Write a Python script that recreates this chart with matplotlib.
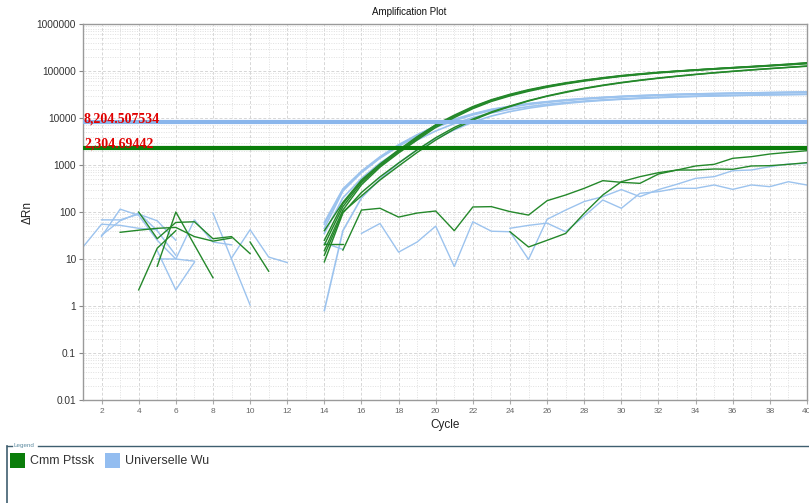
import matplotlib
matplotlib.use('Agg')
import matplotlib.pyplot as plt
from matplotlib.patches import Rectangle
from matplotlib.lines import Line2D
from matplotlib.ticker import FixedLocator, FixedFormatter, LogLocator, NullFormatter, MultipleLocator

plt.rcParams['font.family'] = ['Liberation Sans', 'DejaVu Sans']

# ---------------- data ----------------
series_names = ['Cmm Ptssk', 'Universelle Wu']
green_color = '#24882a'
blue_color = '#9cc3ee'

thr_blue = 8204.507534
thr_green = 2304.69442
thr_blue_label = '8,204.507534'
thr_green_label = '2,304.69442'

cyc_amp = list(range(14, 41))

green_amp_1 = [25, 150, 450, 1000, 2000, 3800, 7000, 11000, 17000, 24000, 31000, 39000, 47000, 55000,
               63000, 71000, 79000, 86000, 93000, 99000, 105000, 111000, 117000, 123000, 130000, 137000, 145000]
green_amp_2 = [20, 130, 420, 950, 1900, 3600, 6700, 10800, 16500, 23500, 30500, 38500, 46500, 54500,
               62500, 70000, 78000, 85500, 92500, 99000, 105500, 112000, 118500, 125000, 132000, 140000, 150000]
green_amp_3 = [40, 160, 480, 1050, 2100, 4000, 7200, 11500, 17500, 24500, 32000, 40000, 48000, 56000,
               64000, 72000, 80000, 87000, 94000, 100000, 106000, 112000, 118000, 124000, 131000, 139000, 148000]
green_amp_4 = [15, 110, 380, 900, 1800, 3400, 6300, 10200, 15800, 22500, 29500, 37000, 45000, 53000,
               61000, 69000, 77000, 84000, 91000, 97000, 103000, 109000, 115000, 121000, 128000, 135000, 143000]
green_amp_5 = [8.7, 95, 260, 560, 1100, 2100, 3800, 6300, 9500, 13500, 18000, 23500, 29500, 36000,
               43000, 50000, 57000, 64000, 71000, 78000, 85000, 92000, 99000, 106000, 113000, 120000, 128000]
green_amp_6 = [12, 100, 220, 480, 950, 1850, 3400, 5800, 9000, 13000, 17500, 23000, 29000, 35000,
               42000, 49000, 56000, 63000, 70000, 77000, 84000, 91000, 98000, 105000, 112000, 119000, 126000]

blue_amp_1 = [55, 300, 720, 1450, 2600, 4300, 6600, 9200, 12000, 15000, 17500, 20000, 22000, 24000,
              25800, 27300, 28700, 29800, 30800, 31700, 32400, 33000, 33600, 34100, 34600, 35100, 35600]
blue_amp_2 = [45, 280, 690, 1400, 2500, 4100, 6300, 8800, 11600, 14500, 17000, 19500, 21500, 23500,
              25300, 26800, 28200, 29300, 30300, 31200, 31900, 32500, 33100, 33600, 34100, 34600, 35100]
blue_amp_3 = [60, 310, 740, 1500, 2700, 4400, 6800, 9400, 12300, 15300, 17800, 20300, 22300, 24300,
              26000, 27500, 28900, 30000, 31000, 31900, 32600, 33200, 33800, 34300, 34800, 35300, 35800]
blue_amp_4 = [35, 200, 520, 1100, 2000, 3400, 5300, 7600, 10200, 12800, 15300, 17500, 19500, 21300,
              22900, 24300, 25500, 26600, 27600, 28400, 29100, 29700, 30200, 30700, 31200, 31600, 32000]
blue_amp_5 = [0.8, 40, 200, 500, 1100, 2100, 3600, 5600, 8200, 11000, 13700, 16200, 18400, 20400,
              22200, 23700, 25000, 26100, 27100, 28000, 28800, 29500, 30100, 30600, 31100, 31500, 31900]

# late / non-amplifying curves
green_late_1_x = list(range(15, 41))
green_late_1_y = [15.5, 110, 120, 78, 95, 105, 40, 128, 130, 102, 86, 174, 230, 319, 464, 428, 407,
                  643, 782, 953, 1033, 1387, 1504, 1713, 1860, 2018]
green_late_2_x = list(range(24, 41))
green_late_2_y = [38, 18, 25, 35, 94, 230, 441, 564, 687, 782, 782, 822, 810, 953, 968, 1033, 1122]
green_seg_x = [14, 15]
green_seg_y = [21, 21]

blue_late_1_x = list(range(16, 41))
blue_late_1_y = [35, 57, 14, 23, 50, 6.9, 62, 39, 38, 9.8, 70, 110, 167, 212, 300, 212, 300, 390,
                 520, 565, 757, 783, 920, 1050, 1080]
blue_late_2_x = list(range(24, 41))
blue_late_2_y = [45, 52, 58, 38, 82, 180, 120, 250, 271, 319, 319, 376, 303, 376, 346, 441, 375]
blue_seg_x = [14, 15]
blue_seg_y = [22, 16]

# early noise fragments
green_noise = [
    ([3, 4, 5, 6, 7, 8, 9], [37, 41, 45, 47, 30, 24, 28]),
    ([4, 5, 6, 7, 8, 9, 10], [100, 27, 60, 62, 27, 30, 13]),
    ([4, 5, 6], [2.2, 17, 40]),
    ([5, 6, 7, 8], [7, 100, 20, 4]),
    ([10, 11], [23, 5.5]),
]
blue_noise = [
    ([1, 2, 3, 4, 5], [18, 55, 52, 45, 42]),
    ([2, 3, 4, 5, 6], [68, 68, 90, 65, 25]),
    ([2, 3, 4, 5, 6, 7], [30, 115, 85, 25, 10, 9]),
    ([5, 6, 7], [15, 2.2, 8.5]),
    ([5, 6, 7, 8, 9], [10, 10, 68, 23, 20]),
    ([8, 9, 10], [95, 10, 1.05]),
    ([9, 10, 11, 12], [10.5, 42, 11, 8.4]),
    ([2, 3, 4, 5, 6], [32, 65, 95, 40, 12]),
]

y_ticks = [0.01, 0.1, 1, 10, 100, 1000, 10000, 100000, 1000000]
y_tick_labels = ['0.01', '0.1', '1', '10', '100', '1000', '10000', '100000', '1000000']
x_ticks = list(range(2, 41, 2))

# ---------------- figure ----------------
W, H = 809, 503
fig = plt.figure(figsize=(W / 100, H / 100), dpi=100)
ax = fig.add_axes([83 / W, 1 - 400 / H, 724 / W, 376 / H])
ax.set_yscale('log')
ax.set_xlim(1, 40)
ax.set_ylim(0.01, 1e6)

lw = 1.0
for xs, ys in blue_noise:
    ax.plot(xs, ys, color=blue_color, lw=lw, zorder=2)
for xs, ys in green_noise:
    ax.plot(xs, ys, color=green_color, lw=lw, zorder=3)

ax.plot(blue_seg_x, blue_seg_y, color=blue_color, lw=lw, zorder=2)
ax.plot(blue_late_1_x, blue_late_1_y, color=blue_color, lw=lw, zorder=2)
ax.plot(blue_late_2_x, blue_late_2_y, color=blue_color, lw=lw, zorder=2)
ax.plot(green_seg_x, green_seg_y, color=green_color, lw=lw, zorder=3)
ax.plot(green_late_1_x, green_late_1_y, color=green_color, lw=lw, zorder=3)
ax.plot(green_late_2_x, green_late_2_y, color=green_color, lw=lw, zorder=3)

for s in [blue_amp_1, blue_amp_2, blue_amp_3, blue_amp_4, blue_amp_5]:
    ax.plot(cyc_amp, s, color=blue_color, lw=1.2, zorder=2)
for s in [green_amp_1, green_amp_2, green_amp_3, green_amp_4, green_amp_5, green_amp_6]:
    ax.plot(cyc_amp, s, color=green_color, lw=1.05, zorder=3)

ax.axhline(thr_blue, color='#8ab6ec', lw=3, zorder=4)
ax.axhline(thr_green, color='#0a7d0a', lw=3, zorder=4)
ax.text(1.05, thr_blue, thr_blue_label, color='#e00000', fontfamily='Liberation Serif',
        fontweight='bold', fontsize=10, va='baseline', ha='left', zorder=5)
ax.text(1.05, thr_green, thr_green_label, color='#e00000', fontfamily='Liberation Serif',
        fontweight='bold', fontsize=10, va='baseline', ha='left', zorder=5)

# axes styling
ax.yaxis.set_major_locator(FixedLocator(y_ticks))
ax.yaxis.set_major_formatter(FixedFormatter(y_tick_labels))
ax.yaxis.set_minor_locator(LogLocator(base=10, subs=range(2, 10), numticks=50))
ax.yaxis.set_minor_formatter(NullFormatter())
ax.xaxis.set_major_locator(FixedLocator(x_ticks))
ax.xaxis.set_minor_locator(MultipleLocator(1))

ax.tick_params(axis='y', which='major', labelsize=7.3, labelcolor='#333333', length=3, color='#888888', pad=2)
ax.tick_params(axis='x', which='major', labelsize=6, labelcolor='#666666', length=3, color='#aaaaaa', pad=3)
ax.tick_params(which='minor', length=0)

ax.grid(which='major', color='#d6d6d6', linestyle=(0, (3, 2)), lw=0.7)
ax.grid(which='minor', color='#e0e0e0', linestyle=(0, (1, 1.5)), lw=0.7)
ax.set_axisbelow(True)
for sp in ax.spines.values():
    sp.set_color('#9a9a9a')
    sp.set_linewidth(1.0)

fig.text(409 / W, 1 - 12 / H, 'Amplification Plot', fontsize=7, color='#111111', ha='center', va='center')
fig.text(28 / W, 1 - 212 / H, 'ΔRn', fontsize=8.5, color='#222222', rotation=90, ha='center', va='center')
fig.text(445 / W, 1 - 425 / H, 'Cycle', fontsize=8.5, color='#222222', ha='center', va='center')

# legend panel
frame_c = '#3f5f70'
fig.add_artist(Line2D([7 / W, 7 / W], [1 - 446 / H, 0], transform=fig.transFigure, color=frame_c, lw=1.2))
fig.add_artist(Line2D([7 / W, 12 / W], [1 - 446 / H, 1 - 446 / H], transform=fig.transFigure, color=frame_c, lw=1.0))
fig.add_artist(Line2D([38 / W, 1], [1 - 446 / H, 1 - 446 / H], transform=fig.transFigure, color=frame_c, lw=1.0))
fig.text(13 / W, 1 - 446 / H, 'Legend', fontsize=4.5, color='#5b8aa0', ha='left', va='center')

fig.add_artist(Rectangle((10 / W, 1 - 468 / H), 15 / W, 15 / H, transform=fig.transFigure,
                         facecolor='#0a7d0a', edgecolor='none'))
fig.text(30 / W, 1 - 461 / H, series_names[0], fontsize=9, color='#333333', ha='left', va='center')
fig.add_artist(Rectangle((105 / W, 1 - 468 / H), 15 / W, 15 / H, transform=fig.transFigure,
                         facecolor='#93bdf0', edgecolor='none'))
fig.text(125 / W, 1 - 461 / H, series_names[1], fontsize=9, color='#333333', ha='left', va='center')

fig.savefig('out.png', dpi=100)
